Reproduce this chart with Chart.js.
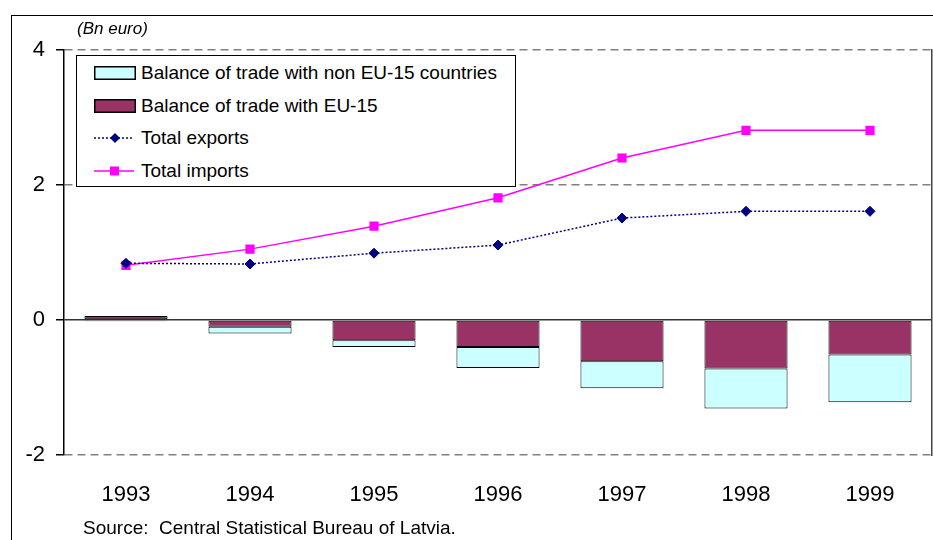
<!DOCTYPE html>
<html>
<head>
<meta charset="utf-8">
<script src="https://cdn.jsdelivr.net/npm/chart.js@4/dist/chart.umd.min.js"></script>
<style>
  html, body { margin: 0; padding: 0; background: #fff; overflow: hidden; }
  #wrap { position: relative; width: 933px; height: 540px; overflow: hidden; font-family: "Liberation Sans", Arial, sans-serif; }
  #frame { position: absolute; left: 11px; top: 15px; width: 940px; height: 540px; border-top: 1.5px solid #000; border-left: 1.5px solid #000; }
  canvas { position: absolute; left: 0; top: 0; }
  #unit { position: absolute; left: 77px; top: 19px; font-size: 17px; font-style: italic; color: #000; white-space: nowrap; }
  #source { position: absolute; left: 83px; top: 517px; font-size: 19px; color: #000; white-space: nowrap; }
  #legend { position: absolute; left: 76px; top: 55px; width: 438px; height: 130px; background: #fff; border: 1.5px solid #000; }
  .row { position: absolute; left: 0; height: 30px; display: flex; align-items: center; font-size: 19px; color: #000; white-space: nowrap; }
  .row svg { margin-left: 17px; margin-right: 5px; }
</style>
</head>
<body>
<div id="wrap">
  <div id="frame"></div>
  <canvas id="c" width="933" height="540"></canvas>
  <div id="unit">(Bn euro)</div>
  <div id="legend"></div>
  <div id="source">Source:&nbsp; Central Statistical Bureau of Latvia.</div>
</div>
<script>
const years = ['1993', '1994', '1995', '1996', '1997', '1998', '1999'];
const balanceEU15 = [0.06, -0.10, -0.30, -0.40, -0.61, -0.72, -0.51];
const balanceNonEU15 = [-0.02, -0.10, -0.10, -0.31, -0.40, -0.59, -0.71];
const totalExports = [0.84, 0.83, 0.99, 1.11, 1.51, 1.61, 1.61];
const totalImports = [0.81, 1.05, 1.39, 1.81, 2.40, 2.81, 2.81];
const yTicks = [-2, 0, 2, 4];

const labelNonEU = 'Balance of trade with non EU-15 countries';
const labelEU = 'Balance of trade with EU-15';
const labelExp = 'Total exports';
const labelImp = 'Total imports';

const chart = new Chart(document.getElementById('c'), {
  data: {
    labels: years,
    datasets: [
      { type: 'line', label: labelExp, data: totalExports, stack: 'exp', order: 0, yAxisID: 'y',
        borderColor: '#000080', backgroundColor: '#000080', borderWidth: 1.5, borderDash: [2, 2],
        pointStyle: 'rectRot', pointRadius: 5, pointBorderWidth: 1, pointBorderColor: '#000080', pointBackgroundColor: '#000080', tension: 0 },
      { type: 'line', label: labelImp, data: totalImports, stack: 'imp', order: 1, yAxisID: 'y',
        borderColor: '#FF00FF', backgroundColor: '#FF00FF', borderWidth: 1.5,
        pointStyle: 'rect', pointRadius: 6.5, pointBorderWidth: 0, pointBackgroundColor: '#FF00FF', tension: 0 },
      { type: 'bar', label: labelEU, data: balanceEU15, stack: 'bal', order: 2, yAxisID: 'y',
        backgroundColor: '#993366', borderColor: '#000', borderWidth: 1, borderSkipped: false,
        barPercentage: 0.67, categoryPercentage: 1 },
      { type: 'bar', label: labelNonEU, data: balanceNonEU15, stack: 'bal', order: 3, yAxisID: 'y',
        backgroundColor: '#CCFFFF', borderColor: '#000', borderWidth: 1, borderSkipped: false,
        barPercentage: 0.67, categoryPercentage: 1 }
    ]
  },
  options: {
    responsive: false,
    animation: false,
    devicePixelRatio: 1,
    layout: { autoPadding: false, padding: { top: 50, right: 0, left: 0, bottom: 0 } },
    plugins: { legend: { display: false }, tooltip: { enabled: false } },
    scales: {
      x: {
        stacked: true,
        grid: { display: false, drawTicks: false },
        border: { display: false },
        ticks: { color: '#000', padding: 27, font: { family: 'Liberation Sans', size: 22 }, maxRotation: 0 },
        afterFit(s) { s.height = 85; s.paddingLeft = 0; s.paddingRight = 0; }
      },
      y: {
        stacked: true,
        position: 'left',
        min: -2, max: 4,
        afterBuildTicks(s) { s.ticks = yTicks.map(v => ({ value: v })); },
        ticks: { color: '#000', padding: 11, font: { family: 'Liberation Sans', size: 22 } },
        grid: {
          color: (ctx) => (ctx.tick && ctx.tick.value === 0) ? '#333' : '#808080',
          lineWidth: 1.5,
          tickLength: 8, tickColor: '#000', tickWidth: 1.5
        },
        border: {
          display: true, color: '#000', width: 1.5,
          dash: (ctx) => (ctx.tick && ctx.tick.value !== 0) ? [8, 5] : []
        },
        afterFit(s) { s.width = 64; }
      },
      yRight: {
        type: 'linear',
        position: 'right',
        min: -2, max: 4,
        ticks: { display: false },
        grid: { display: false, drawOnChartArea: false, drawTicks: false },
        border: { display: true, color: '#444', width: 1.5 },
        afterFit(s) { s.width = 1; }
      }
    }
  }
});

// HTML legend built from the datasets
const legendOrder = [labelNonEU, labelEU, labelExp, labelImp];
const legendTops = [2, 35, 67, 100];
const legendEl = document.getElementById('legend');
legendOrder.forEach((lab, i) => {
  const ds = chart.data.datasets.find(d => d.label === lab);
  let svg;
  if (ds.type === 'bar') {
    svg = `<svg width="42" height="14"><rect x="0.75" y="0.75" width="40.5" height="12.5" fill="${ds.backgroundColor}" stroke="#000" stroke-width="1.5"/></svg>`;
  } else if (ds.pointStyle === 'rectRot') {
    svg = `<svg width="42" height="14"><line x1="0" y1="7" x2="40" y2="7" stroke="${ds.borderColor}" stroke-width="1.5" stroke-dasharray="2,2"/><polygon points="21,2 26,7 21,12 16,7" fill="${ds.pointBackgroundColor}"/></svg>`;
  } else {
    svg = `<svg width="42" height="14"><line x1="0" y1="7" x2="40" y2="7" stroke="${ds.borderColor}" stroke-width="1.5"/><rect x="16" y="2.5" width="9" height="9" fill="${ds.pointBackgroundColor}"/></svg>`;
  }
  const row = document.createElement('div');
  row.className = 'row';
  row.style.top = legendTops[i] + 'px';
  row.innerHTML = svg + '<span>' + lab + '</span>';
  legendEl.appendChild(row);
});
</script>
</body>
</html>
